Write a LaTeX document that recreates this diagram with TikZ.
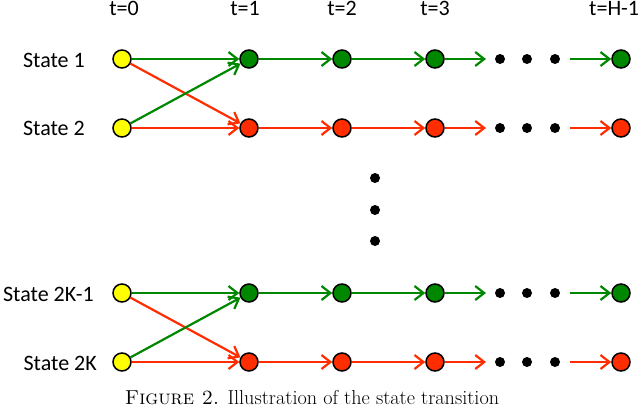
\documentclass[tikz,border=0pt]{standalone}
\usepackage{fontspec}
\newfontfamily\carl{Carlito}
\usetikzlibrary{arrows.meta}
\definecolor{dgreen}{RGB}{0,135,0}
\definecolor{dred}{RGB}{255,45,0}
\definecolor{yel}{RGB}{255,255,0}
\begin{document}
\begin{tikzpicture}[x=1pt,y=-1pt,
  st/.style={circle,draw=black,line width=1.5pt,minimum size=18pt,inner sep=0pt},
  ynode/.style={st,fill=yel},
  gnode/.style={st,fill=dgreen},
  rnode/.style={st,fill=dred},
  bdot/.style={circle,fill=black,minimum size=10pt,inner sep=0pt},
  garr/.style={draw=dgreen,line width=2.2pt,-{Straight Barb[length=9pt,width=14pt,line width=2.2pt]}},
  rarr/.style={draw=dred,line width=2.2pt,-{Straight Barb[length=9pt,width=14pt,line width=2.2pt]}},
  lab/.style={font=\carl\fontsize{22}{24}\selectfont,inner sep=0pt},
  captext/.style={font=\fontsize{20.2}{22}\selectfont,inner sep=0pt}]
\useasboundingbox (0,0) rectangle (640,408);
% time labels
\node[lab] (t0) at (124,8) {t=0};
\node[lab] (t1) at (245,8) {t=1};
\node[lab] (t2) at (342,8) {t=2};
\node[lab] (t3) at (435,8) {t=3};
\node[lab,anchor=west] (tH) at (589,8) {t=H-1};
% state labels
\node[lab,anchor=east] (s1) at (85,60) {State 1};
\node[lab,anchor=east] (s2) at (85,128) {State 2};
\node[lab,anchor=east] (s3) at (94,294) {State 2K-1};
\node[lab,anchor=east] (s4) at (97,363) {State 2K};
% rows
\foreach \r/\y in {a/59,b/128,c/293,d/362}{
  \node[ynode] (\r 0) at (122,\y) {};
}
\foreach \r/\y/\s in {a/59/gnode,b/128/rnode,c/293/gnode,d/362/rnode}{
  \node[\s] (\r 1) at (249,\y) {};
  \node[\s] (\r 2) at (342,\y) {};
  \node[\s] (\r 3) at (435,\y) {};
  \node[\s] (\r H) at (621,\y) {};
  \node[bdot] (\r d1) at (500,\y) {};
  \node[bdot] (\r d2) at (527,\y) {};
  \node[bdot] (\r d3) at (555,\y) {};
  \coordinate (\r e) at (486,\y);
  \coordinate (\r s) at (570,\y);
}
% vertical dots
\node[bdot] (v1) at (375,178) {};
\node[bdot] (v2) at (375,210) {};
\node[bdot] (v3) at (375,241) {};
% arrows
\foreach \p/\q in {a/b,c/d}{
  \draw[rarr] (\p 0) -- (\q 1);
  \draw[garr] (\q 0) -- (\p 1);
  \draw[garr] (\p 0) -- (\p 1);
  \draw[rarr] (\q 0) -- (\q 1);
}
\foreach \r/\a in {a/garr,b/rarr,c/garr,d/rarr}{
  \draw[\a] (\r 1) -- (\r 2);
  \draw[\a] (\r 2) -- (\r 3);
  \draw[\a] (\r 3) -- (\r e);
  \draw[\a] (\r s) -- (\r H);
}
\node[captext] (caption) at (312,398) {\textsc{Figure 2.} Illustration of the state transition};
\end{tikzpicture}
\end{document}
